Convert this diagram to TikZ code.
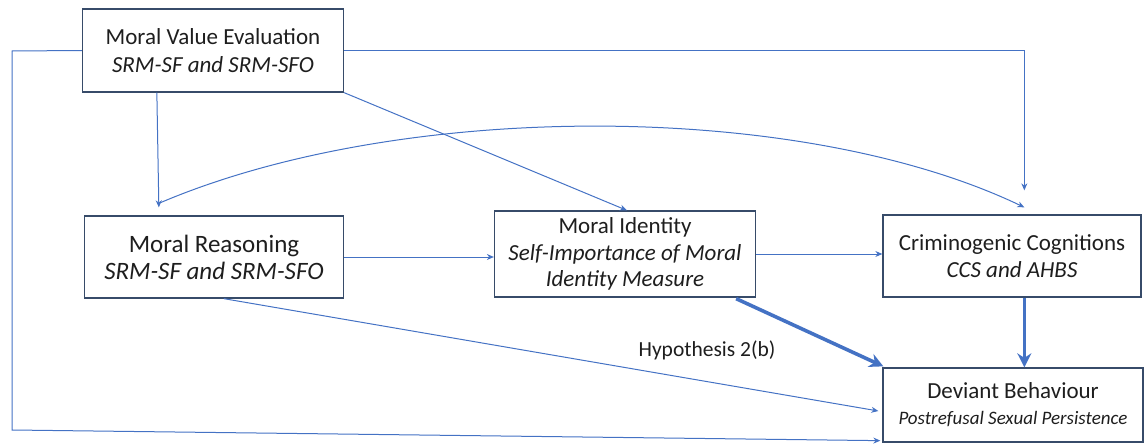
\documentclass[tikz,border=0pt]{standalone}
\usepackage{fontspec}
\setmainfont{Carlito}
\usetikzlibrary{arrows.meta,calc}
\definecolor{linkblue}{RGB}{68,114,196}
\definecolor{boxedge}{RGB}{55,75,105}
\definecolor{txt}{RGB}{30,30,30}
\begin{document}
\begin{tikzpicture}[x=1pt,y=-1pt,
  box/.style={draw=boxedge,line width=1.3pt,fill=white,text=txt,align=center,inner sep=0pt},
  link/.style={draw=linkblue,line width=1pt,-{Stealth[length=7pt,width=6pt]}},
  heavy/.style={draw=linkblue,line width=3.6pt,-{Stealth[length=14pt,width=14pt]}}]
\useasboundingbox (0,0) rectangle (1144,444);

% construct boxes
\node[box,minimum width=261pt,minimum height=83pt,font=\fontsize{23}{27.4}\selectfont] (mve) at (213,50.5)
  {Moral Value Evaluation\\\textit{SRM-SF and SRM-SFO}};
\node[box,minimum width=259pt,minimum height=82pt,font=\fontsize{25}{27}\selectfont] (mr) at (214,257)
  {Moral Reasoning\\\textit{SRM-SF and SRM-SFO}};
\node[box,minimum width=261pt,minimum height=86pt,font=\fontsize{23}{26.5}\selectfont] (mi) at (625,254)
  {Moral Identity\\\textit{Self-Importance of Moral}\\\textit{Identity Measure}};
\node[box,minimum width=258pt,minimum height=82pt,font=\fontsize{23}{26.5}\selectfont] (cc) at (1012,256)
  {Criminogenic Cognitions\\\textit{CCS and AHBS}};
\node[box,minimum width=260pt,minimum height=74pt,font=\fontsize{23}{26}\selectfont] (db) at (1013,405)
  {Deviant Behaviour\\{\fontsize{19}{26}\selectfont\itshape Postrefusal Sexual Persistence}};

\node[font=\fontsize{21.5}{25}\selectfont,text=txt] (hyp) at (707,350) {Hypothesis 2(b)};

% routing points of the outer loop
\coordinate (lt) at (12,51);
\coordinate (lb) at (12,430);

% paths between constructs
\draw[link] ([xshift=75pt]mve.south west) -- ([xshift=75pt,yshift=8pt]mr.north west);
\draw[link] (mve.south east) -- ([xshift=133pt]mi.north west);
\draw[link] (mve.east) -| ([xshift=142pt,yshift=24pt]cc.north west);
\draw[link] ([xshift=75pt,yshift=12pt]mr.north west) .. controls (400,100) and (800,100) .. ([xshift=142pt,yshift=7pt]cc.north west);
\draw[link] (mr.east) -- (mr.east -| mi.west);
\draw[link] (mi.east) -- (mi.east -| cc.west);
\draw[link] ([xshift=140pt]mr.south west) -- ([xshift=-4pt,yshift=-6pt]db.west);
\draw[link] (mve.west) -- (lt) -- (lb) -- ([xshift=-2pt,yshift=2pt]db.south west);
\draw[heavy] ([xshift=-20pt,yshift=-1pt]mi.south east) -- ([xshift=1pt,yshift=1pt]db.north west);
\draw[heavy] ([xshift=142pt]cc.south west) -- ([xshift=142pt]db.north west);
\end{tikzpicture}
\end{document}
